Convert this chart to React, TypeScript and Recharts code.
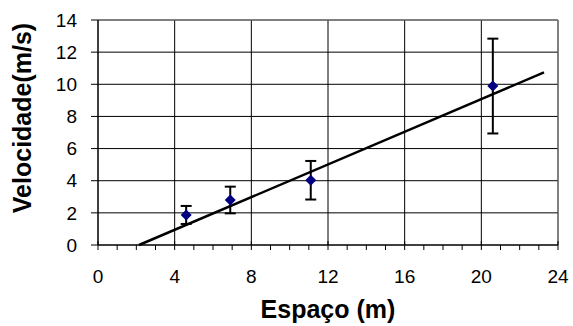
import { ComposedChart, Scatter, XAxis, YAxis, CartesianGrid, ErrorBar, Label } from "recharts"

const espaco = [4.6, 6.9, 11.1, 20.6]
const velocidade = [1.87, 2.8, 4.03, 9.89]
const erro = [0.56, 0.83, 1.2, 2.95]

const trendX = [2.14, 23.27]
const trendY = [0, 10.74]

const xMinorTicks = [0, 1, 2, 3, 4, 5, 6, 7, 8, 9, 10, 11, 12, 13, 14, 15, 16, 17, 18, 19, 20, 21, 22, 23, 24]
const xMajorTicks = [0, 4, 8, 12, 16, 20, 24]
const yTicks = [0, 2, 4, 6, 8, 10, 12, 14]

const points = espaco.map((x, i) => ({ x, y: velocidade[i], err: erro[i] }))
const trend = trendX.map((x, i) => ({ x, y: trendY[i] }))

const FONT = "'Liberation Sans', Arial, sans-serif"

function XTick(props: any) {
  const { x, y, payload } = props
  const major = payload.value % 4 === 0
  const axisY = y - 8
  return (
    <g>
      <line x1={x} x2={x} y1={major ? axisY - 4 : axisY} y2={axisY + 5} stroke="#000" strokeWidth={1} />
      {major && (
        <text x={x} y={axisY + 38} textAnchor="middle" fontSize={19} fontFamily={FONT} fill="#000">
          {payload.value}
        </text>
      )}
    </g>
  )
}

function Diamond(props: any) {
  const { cx, cy } = props
  const r = 5.5
  return <polygon points={`${cx},${cy - r} ${cx + r},${cy} ${cx},${cy + r} ${cx - r},${cy}`} fill="#000080" />
}

export default function App() {
  return (
    <div style={{ position: "absolute", left: 0, top: 0, background: "#fff" }}>
      <ComposedChart width={573} height={326} margin={{ top: 20, right: 15, bottom: 0, left: 0 }}>
        <CartesianGrid stroke="#000" strokeWidth={1} verticalValues={xMajorTicks} horizontalValues={yTicks} />
        <XAxis
          type="number"
          dataKey="x"
          domain={[0, 24]}
          ticks={xMinorTicks}
          interval={0}
          height={81}
          tickLine={false}
          tick={<XTick />}
          axisLine={{ stroke: "#000" }}
        >
          <Label
            content={() => (
              <text x={328} y={318} textAnchor="middle" fontSize={25} fontWeight="bold" fontFamily={FONT} fill="#000">
                Espaço (m)
              </text>
            )}
          />
        </XAxis>
        <YAxis
          type="number"
          dataKey="y"
          domain={[0, 14]}
          ticks={yTicks}
          interval={0}
          width={98}
          tickSize={7}
          tickMargin={14}
          tick={{ fontSize: 19, fontFamily: FONT, fill: "#000" }}
          tickLine={{ stroke: "#000" }}
          axisLine={{ stroke: "#000" }}
        >
          <Label
            content={() => (
              <text
                transform="translate(22,118) rotate(-90)"
                textAnchor="middle"
                dominantBaseline="central"
                fontSize={25}
                fontWeight="bold"
                fontFamily={FONT}
                fill="#000"
              >
                Velocidade(m/s)
              </text>
            )}
          />
        </YAxis>
        <Scatter data={trend} line={{ stroke: "#000", strokeWidth: 2.5 }} shape={() => <g />} isAnimationActive={false} />
        <Scatter data={points} shape={<Diamond />} isAnimationActive={false}>
          <ErrorBar dataKey="err" direction="y" width={5.5} stroke="#000" strokeWidth={2} />
        </Scatter>
        <line x1={558} y1={20} x2={558} y2={245} stroke="#808080" />
        <line x1={98} y1={20} x2={558} y2={20} stroke="#808080" />
      </ComposedChart>
    </div>
  )
}
